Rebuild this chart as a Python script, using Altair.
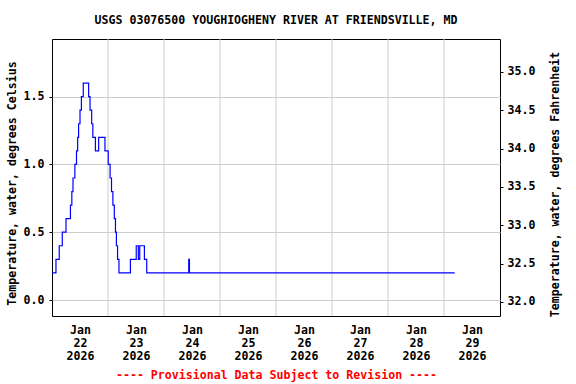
import json
import altair as alt
import pandas as pd

TITLE = "USGS 03076500 YOUGHIOGHENY RIVER AT FRIENDSVILLE, MD"
Y_LEFT_TITLE = "Temperature, water, degrees Celsius"
Y_RIGHT_TITLE = "Temperature, water, degrees Fahrenheit"
FOOTER = "---- Provisional Data Subject to Revision ----"

# hours since Jan 22 2026 00:00 at which the reading changes, and the reading (deg C)
hours = [0.0, 1.7, 3.1, 4.4, 6.0, 7.9, 8.5, 9.0, 9.8, 10.5, 11.0, 11.4, 12.0, 12.6,
         13.4, 15.7, 16.3, 17.0, 17.5, 18.6, 20.0, 22.7, 24.1, 24.9, 25.5, 26.1,
         26.7, 27.2, 27.6, 28.1, 28.7, 33.6, 36.1, 37.0, 37.6, 39.6, 40.6, 58.6,
         58.9, 172.6]
temp_c = [0.2, 0.3, 0.4, 0.5, 0.6, 0.7, 0.8, 0.9, 1.0, 1.1, 1.2, 1.3, 1.4, 1.5,
          1.6, 1.5, 1.4, 1.3, 1.2, 1.1, 1.2, 1.1, 1.0, 0.9, 0.8, 0.7,
          0.6, 0.5, 0.4, 0.3, 0.2, 0.3, 0.4, 0.3, 0.4, 0.3, 0.2, 0.3,
          0.2, 0.2]

# x-axis labels (placed at noon of each day) and midnight grid lines
label_hours = [12, 36, 60, 84, 108, 132, 156, 180]
tick_months = ["Jan", "Jan", "Jan", "Jan", "Jan", "Jan", "Jan", "Jan"]
tick_days = ["22", "23", "24", "25", "26", "27", "28", "29"]
tick_years = ["2026", "2026", "2026", "2026", "2026", "2026", "2026", "2026"]
grid_hours = [24, 48, 72, 96, 120, 144, 168]

left_ticks = [0.0, 0.5, 1.0, 1.5]
right_ticks = [32.0, 32.5, 33.0, 33.5, 34.0, 34.5, 35.0]

FONT = "DejaVu Sans Mono"
FS = 11.6

df = pd.DataFrame({"hour": hours, "temp_c": temp_c})
grid_df = pd.DataFrame({"hour": grid_hours})

label_lines = [[m, d, y] for m, d, y in zip(tick_months, tick_days, tick_years)]
label_expr = json.dumps(label_lines).replace('"', "'") + "[floor(datum.value / 24)]"

xscale = alt.Scale(domain=[0, 192], nice=False, zero=False)
xaxis = alt.Axis(
    values=label_hours,
    labelExpr=label_expr,
    title=FOOTER,
    titleColor="#ff0000",
    titleY=59,
    titleBaseline="middle",
    grid=False,
    ticks=False,
    domain=False,
    labelPadding=8,
    labelLineHeight=13,
    labelBaseline="top",
)

rules = alt.Chart(grid_df).mark_rule(color="#cccccc", strokeWidth=1).encode(
    x=alt.X("hour:Q", scale=xscale, axis=xaxis)
)

line = alt.Chart(df).mark_line(
    interpolate="step-after", color="#0000ff", strokeWidth=1.2
).encode(
    x=alt.X("hour:Q", scale=xscale, axis=xaxis),
    y=alt.Y(
        "temp_c:Q",
        scale=alt.Scale(domain=[-0.118, 1.925], nice=False, zero=False),
        axis=alt.Axis(
            values=left_ticks,
            format=".1f",
            title=Y_LEFT_TITLE,
            titleX=-40,
            titleY=144,
            titleAngle=-90,
            titleAlign="center",
            titleBaseline="middle",
            grid=True,
            gridColor="#cccccc",
            tickSize=3,
            labelPadding=5,
            domain=False,
        ),
    ),
)

fahr = alt.Chart(df).transform_calculate(
    temp_f="datum.temp_c * 1.8 + 32"
).mark_line(opacity=0).encode(
    x=alt.X("hour:Q", scale=xscale, axis=xaxis),
    y=alt.Y(
        "temp_f:Q",
        scale=alt.Scale(domain=[31.817, 35.43], nice=False, zero=False),
        axis=alt.Axis(
            orient="right",
            values=right_ticks,
            format=".1f",
            title=Y_RIGHT_TITLE,
            titleX=55,
            titleY=145,
            titleAngle=-90,
            titleAlign="center",
            titleBaseline="middle",
            grid=False,
            tickSize=3,
            labelPadding=4,
            domain=False,
        ),
    ),
)

chart = alt.layer(rules, line, fahr).resolve_scale(y="independent").properties(
    width=448,
    height=277,
    padding={"left": 52, "top": 39, "right": 76, "bottom": 68},
    autosize=alt.AutoSizeParams(type="none"),
    background="#ffffff",
    title=alt.TitleParams(
        TITLE, anchor="middle", font=FONT, fontSize=FS, fontWeight="bold",
        color="#000000", offset=12,
    ),
).configure_view(
    stroke="#000000", strokeWidth=1
).configure_axis(
    labelFont=FONT, labelFontSize=FS, labelFontWeight="bold", labelColor="#000000",
    titleFont=FONT, titleFontSize=FS, titleFontWeight="bold", titleColor="#000000",
    tickColor="#000000",
)

chart.save("out.html", embed_options={"renderer": "svg", "actions": False})
